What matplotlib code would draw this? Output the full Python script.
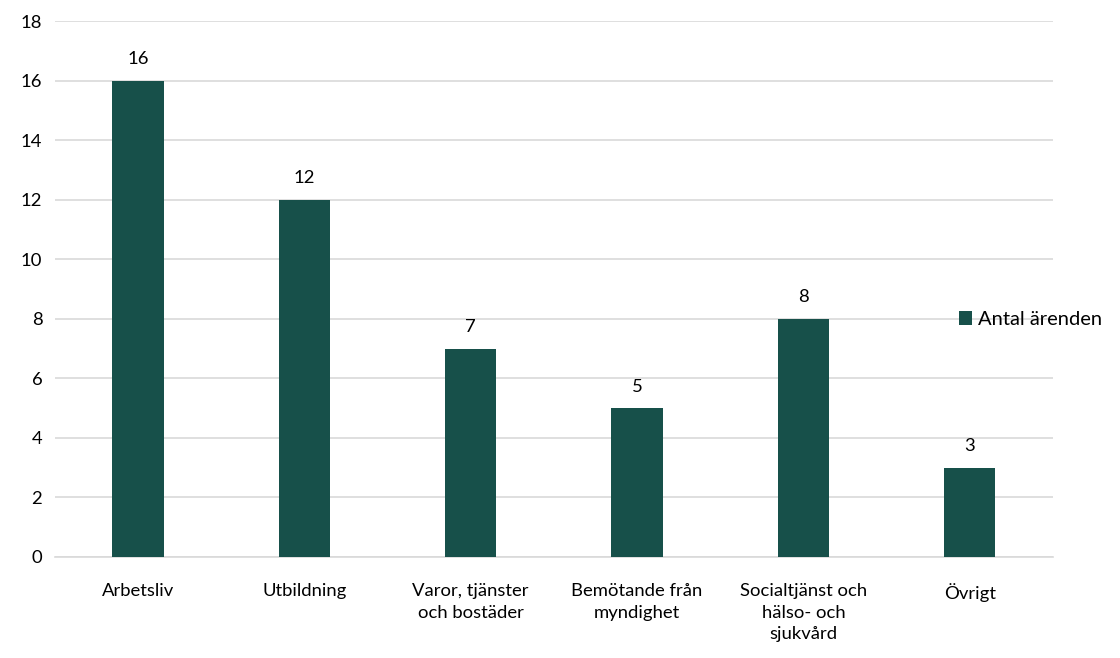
import matplotlib.pyplot as plt

categories = ["Arbetsliv", "Utbildning", "Varor, tjänster\noch bostäder",
              "Bemötande från\nmyndighet", "Socialtjänst och\nhälso- och\nsjukvård", "Övrigt"]
values = [16, 12, 7, 5, 8, 3]
yticks = [0, 2, 4, 6, 8, 10, 12, 14, 16, 18]

plt.rcParams['font.family'] = ['Lato', 'DejaVu Sans']
plt.rcParams['font.size'] = 13.3

fig = plt.figure(figsize=(11.2, 6.58), dpi=100)
ax = fig.add_axes([0.049, 0.1535, 0.891, 0.8145])

x = range(len(categories))
bars = ax.bar(x, values, width=0.31, color="#17504A", label="Antal ärenden", zorder=3)
for b, v in zip(bars, values):
    ax.text(b.get_x() + b.get_width() / 2, v + 0.45, str(v), ha="center", va="bottom", color="#000000")

ax.set_xlim(-0.5, len(categories) - 0.5)
ax.set_ylim(0, 18)
ax.set_yticks(yticks)
ax.set_xticks(list(x))
ax.set_xticklabels(categories, va="top", linespacing=1.42)
ax.grid(axis="y", color="#d9d9d9", linewidth=1.2, zorder=0)
for s in ["top", "right", "left"]:
    ax.spines[s].set_visible(False)
ax.spines["bottom"].set_color("#d9d9d9")
ax.spines["bottom"].set_linewidth(1.2)
ax.tick_params(axis="x", length=0, pad=19)
ax.tick_params(axis="y", length=0, pad=9)

fig.legend(loc="center left", bbox_to_anchor=(0.849, 0.514), frameon=False, fontsize=14.5,
           handlelength=0.65, handleheight=0.65, handletextpad=0.3, borderaxespad=0)

plt.savefig("out.png")
